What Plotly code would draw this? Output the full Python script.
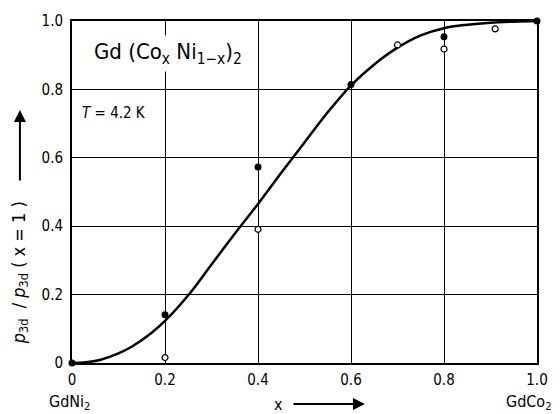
import plotly.graph_objects as go

# curve
curve_x = [0, 0.03, 0.06, 0.1, 0.13, 0.17, 0.2, 0.25, 0.3, 0.35, 0.4, 0.45, 0.5, 0.55, 0.6, 0.65, 0.7, 0.75, 0.8, 0.85, 0.9, 0.95, 1.0]
curve_y = [0, 0.002, 0.009, 0.028, 0.049, 0.087, 0.123, 0.198, 0.288, 0.378, 0.465, 0.556, 0.645, 0.733, 0.812, 0.873, 0.922, 0.958, 0.979, 0.989, 0.995, 0.998, 1.0]

filled_x = [0, 0.2, 0.4, 0.6, 0.8, 1.0]
filled_y = [0, 0.141, 0.573, 0.814, 0.954, 1.0]

open_x = [0.2, 0.4, 0.7, 0.8, 0.91]
open_y = [0.016, 0.391, 0.93, 0.918, 0.977]

tick_vals = [0, 0.2, 0.4, 0.6, 0.8, 1.0]
tick_text = ["0", "0.2", "0.4", "0.6", "0.8", "1.0"]

FONT = "DejaVu Sans Condensed, Liberation Sans Narrow, sans-serif"

fig = go.Figure()
fig.add_trace(go.Scatter(x=curve_x, y=curve_y, mode="lines",
                         line=dict(color="black", width=2.5, shape="spline", smoothing=1),
                         cliponaxis=False, hoverinfo="skip"))
fig.add_trace(go.Scatter(x=filled_x, y=filled_y, mode="markers",
                         marker=dict(symbol="circle", size=7, color="black"),
                         cliponaxis=False))
fig.add_trace(go.Scatter(x=open_x, y=open_y, mode="markers",
                         marker=dict(symbol="circle", size=6, color="white",
                                     line=dict(color="black", width=1.2)),
                         cliponaxis=False))

axis_common = dict(range=[0, 1], tickvals=tick_vals, ticktext=tick_text,
                   showgrid=True, gridcolor="black", gridwidth=1.3,
                   showline=True, linecolor="black", linewidth=2, mirror=True,
                   zeroline=False, ticks="", fixedrange=True,
                   tickfont=dict(family=FONT, size=15, color="black"))

fig.update_xaxes(**axis_common, ticklabelstandoff=2)
fig.update_yaxes(**axis_common, ticklabelstandoff=4)

annotations = [
    dict(x=0.038, y=0.905, xref="paper", yref="paper", xanchor="left", yanchor="middle",
         text="Gd (Co<sub>x</sub> Ni<sub>1−x</sub>)<sub>2</sub>", showarrow=False,
         font=dict(family=FONT, size=22, color="black"), bgcolor="white", borderpad=3),
    dict(x=0.018, y=0.73, xref="paper", yref="paper", xanchor="left", yanchor="middle",
         text="<i>T</i> = 4.2 K", showarrow=False,
         font=dict(family=FONT, size=15, color="black")),
    dict(x=-0.005, y=-0.115, xref="paper", yref="paper", xanchor="center", yanchor="middle",
         text="GdNi<sub>2</sub>", showarrow=False,
         font=dict(family=FONT, size=16, color="black")),
    dict(x=1.036, y=-0.115, xref="paper", yref="paper", xanchor="right", yanchor="middle",
         text="GdCo<sub>2</sub>", showarrow=False,
         font=dict(family=FONT, size=16, color="black")),
    dict(x=0.445, y=-0.12, xref="paper", yref="paper", xanchor="center", yanchor="middle",
         text="x", showarrow=False,
         font=dict(family=FONT, size=16, color="black")),
    # x arrow
    dict(x=0.63, y=-0.12, ax=-73, ay=0, xref="paper", yref="paper",
         axref="pixel", ayref="pixel", text="", showarrow=True,
         arrowhead=2, arrowsize=1.2, arrowwidth=2, arrowcolor="black"),
    # y title
    dict(x=-0.112, y=0.265, xref="paper", yref="paper", xanchor="center", yanchor="middle",
         text="<i>p</i><sub>3d</sub>  / <i>p</i><sub>3d</sub> ( x = 1 )", textangle=-90,
         showarrow=False, font=dict(family=FONT, size=18, color="black")),
    # y arrow
    dict(x=-0.112, y=0.74, ax=0, ay=72, xref="paper", yref="paper",
         axref="pixel", ayref="pixel", text="", showarrow=True,
         arrowhead=2, arrowsize=1.2, arrowwidth=2, arrowcolor="black"),
]

fig.update_layout(width=560, height=414,
                  margin=dict(l=72, r=18, t=17, b=51),
                  plot_bgcolor="white", paper_bgcolor="white",
                  showlegend=False, annotations=annotations,
                  font=dict(family=FONT, color="black"))

fig.write_html("out.html")
